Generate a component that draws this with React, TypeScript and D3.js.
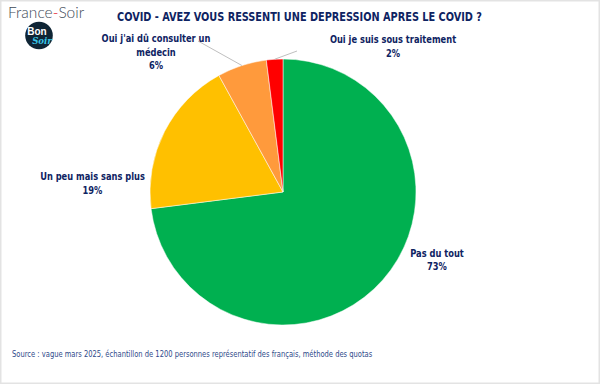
import React from "react";
import * as d3 from "d3";

const categories = ["Pas du tout", "Un peu mais sans plus", "Oui j'ai dû consulter un médecin", "Oui je suis sous traitement"];
const values = [73, 19, 6, 2];
const colors = ["#00B050", "#FFC000", "#FF9A3C", "#FF0000"];
const labelLines = [["Pas du tout"], ["Un peu mais sans plus"], ["Oui j'ai dû consulter un", "médecin"], ["Oui je suis sous traitement"]];

const title = "COVID - AVEZ VOUS RESSENTI UNE DEPRESSION APRES LE COVID ?";
const source = "Source : vague mars 2025, échantillon de 1200 personnes représentatif des français, méthode des quotas";

const W = 600, H = 384;
const cx = 283, cy = 192, R = 133;
const navy = "#0E2362";
const font = "'DejaVu Sans Condensed', 'Liberation Sans', Arial, sans-serif";

// label anchor positions (x center, first baseline) and leader end points
const labelPos = [
  { x: 437, y: 256.5, leader: null },
  { x: 92.5, y: 180, leader: null },
  { x: 156, y: 42, leader: [198, 41] },
  { x: 393, y: 43, leader: [297, 51] },
];

function SText({ x, y, sx, anchor, children, ...rest }: any) {
  return (
    <text transform={`translate(${x},${y}) scale(${sx},1)`} textAnchor={anchor} {...rest}>
      {children}
    </text>
  );
}

export default function App() {
  const pie = d3.pie<number>().sort(null).value((d) => d)(values);
  const arc = d3.arc<d3.PieArcDatum<number>>().innerRadius(0).outerRadius(R);
  return (
    <svg width={W} height={H} style={{ position: "absolute", left: 0, top: 0, background: "#fff" }}>
      <rect x={0.75} y={0.75} width={W - 1.5} height={H - 1.5} fill="#fff" stroke="#e3e3e3" strokeWidth={1.5} />
      {/* logos */}
      <text x={8} y={18} fontFamily="Lato, 'Liberation Sans', Arial, sans-serif" fontWeight={300} fontSize={15.5} fill="#3e4a57">
        France<tspan fill="#e30613">-</tspan>Soir
      </text>
      <circle cx={39} cy={35.5} r={13.8} fill="#0f2535" />
      <text x={37} y={34.5} textAnchor="middle" fontFamily="'Liberation Sans', Arial, sans-serif" fontWeight="bold" fontSize={10} fill="#fff">Bon</text>
      <text x={42} y={44} textAnchor="middle" fontFamily="'DejaVu Serif', serif" fontStyle="italic" fontWeight="bold" fontSize={8.5} fill="#38c4e6">Soir</text>
      {/* title */}
      <text x={117} y={20.5} textLength={365} lengthAdjust="spacingAndGlyphs" fontFamily={font} fontWeight="bold" fontSize={11.5} fill={navy}>{title}</text>
      {/* pie */}
      <g transform={`translate(${cx},${cy})`}>
        {pie.map((p, i) => (
          <path key={categories[i]} d={arc(p) || ""} fill={colors[i]} stroke="#fff" strokeWidth={0.5} />
        ))}
      </g>
      {/* leaders */}
      {pie.map((p, i) => {
        const lp = labelPos[i];
        if (!lp.leader) return null;
        const a = (p.startAngle + p.endAngle) / 2;
        const x0 = cx + R * Math.sin(a), y0 = cy - R * Math.cos(a);
        return <line key={"l" + i} x1={x0} y1={y0} x2={lp.leader[0]} y2={lp.leader[1]} stroke="#bfbfbf" strokeWidth={1} />;
      })}
      {/* labels */}
      {pie.map((p, i) => {
        const lp = labelPos[i];
        const lines = [...labelLines[i], `${values[i]}%`];
        return (
          <g key={"t" + i}>
            {lines.map((ln, j) => (
              <SText key={j} x={lp.x} y={lp.y + j * 13.5} sx={0.84} anchor="middle" fontFamily={font} fontWeight="bold" fontSize={11} fill={navy}>{ln}</SText>
            ))}
          </g>
        );
      })}
      <SText x={12} y={357} sx={0.835} anchor="start" fontFamily={font} fontSize={9} fill="#2F4A8A">{source}</SText>
    </svg>
  );
}
